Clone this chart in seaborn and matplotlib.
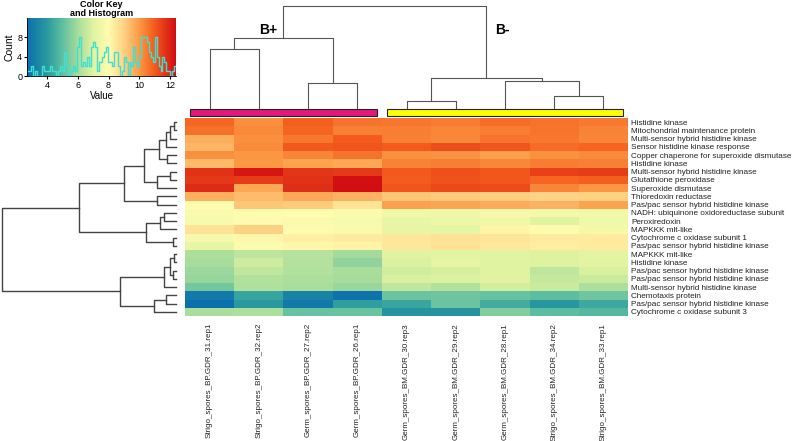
import numpy as np
import pandas as pd
import seaborn as sns
import matplotlib.pyplot as plt
from matplotlib.colors import LinearSegmentedColormap
from matplotlib.patches import Rectangle

samples = ["Strigo_spores_BP.GDR_31.rep1", "Strigo_spores_BP.GDR_32.rep2",
           "Germ_spores_BP.GDR_27.rep2", "Germ_spores_BP.GDR_26.rep1",
           "Germ_spores_BM.GDR_30.rep3", "Germ_spores_BM.GDR_29.rep2",
           "Germ_spores_BM.GDR_28.rep1", "Strigo_spores_BM.GDR_34.rep2",
           "Strigo_spores_BM.GDR_33.rep1"]
groups = ["B+", "B+", "B+", "B+", "B-", "B-", "B-", "B-", "B-"]
group_colors = {"B+": "#e4177f", "B-": "#ffff00"}

genes = ["Histidine kinase", "Mitochondrial maintenance protein",
         "Multi-sensor hybrid histidine kinase", "Sensor histidine kinase response",
         "Copper chaperone for superoxide dismutase", "Histidine kinase",
         "Multi-sensor hybrid histidine kinase", "Glutathione peroxidase",
         "Superoxide dismutase", "Thioredoxin reductase",
         "Pas/pac sensor hybrid histidine kinase", "NADH: ubiquinone oxidoreductase subunit",
         "Peroxiredoxin", "MAPKKK mlt-like", "Cytochrome c oxidase subunit 1",
         "Pas/pac sensor hybrid histidine kinase", "MAPKKK mlt-like", "Histidine kinase",
         "Pas/pac sensor hybrid histidine kinase", "Pas/pac sensor hybrid histidine kinase",
         "Multi-sensor hybrid histidine kinase", "Chemotaxis protein",
         "Pas/pac sensor hybrid histidine kinase", "Cytochrome c oxidase subunit 3"]

expr = [
    [10.82, 10.18, 10.93, 10.62, 10.55, 10.47, 10.71, 10.64, 10.52],
    [10.66, 10.23, 10.85, 10.38, 10.44, 10.31, 10.47, 10.58, 10.36],
    [9.62, 10.16, 10.54, 11.02, 10.41, 10.29, 10.63, 10.56, 10.34],
    [9.48, 10.21, 11.04, 11.12, 11.01, 11.22, 11.13, 10.74, 10.86],
    [10.17, 10.06, 10.33, 10.61, 10.12, 10.08, 9.92, 10.14, 10.24],
    [9.41, 10.02, 9.83, 9.71, 10.37, 10.43, 10.28, 10.46, 10.39],
    [11.72, 12.21, 11.66, 11.58, 11.03, 11.18, 11.09, 11.47, 11.52],
    [11.61, 11.54, 11.73, 12.31, 10.97, 11.14, 11.06, 10.81, 10.92],
    [11.88, 9.74, 11.79, 12.38, 11.11, 11.32, 11.27, 10.33, 10.07],
    [9.62, 9.37, 9.71, 9.58, 9.21, 9.16, 9.08, 8.97, 9.03],
    [8.02, 9.18, 9.11, 8.63, 9.88, 9.79, 9.69, 9.57, 9.83],
    [7.82, 7.91, 8.03, 7.87, 7.48, 7.53, 7.71, 7.62, 7.58],
    [7.77, 7.94, 7.81, 7.76, 7.32, 7.41, 7.52, 7.04, 7.47],
    [8.61, 9.02, 7.93, 7.84, 7.22, 7.17, 8.18, 7.92, 7.63],
    [7.68, 8.11, 8.27, 8.38, 8.49, 8.62, 8.53, 8.41, 8.44],
    [7.21, 7.88, 8.13, 8.22, 8.52, 8.58, 8.47, 8.36, 8.43],
    [6.12, 6.38, 6.27, 5.98, 7.03, 7.11, 7.08, 6.97, 7.14],
    [6.02, 6.68, 6.23, 5.72, 6.91, 7.18, 7.01, 6.96, 7.09],
    [5.88, 6.47, 6.19, 6.07, 6.72, 6.81, 6.99, 6.42, 6.87],
    [5.79, 6.22, 6.13, 6.01, 6.88, 6.93, 7.02, 6.53, 6.62],
    [5.31, 6.17, 6.04, 5.83, 6.48, 6.21, 6.77, 6.61, 6.12],
    [3.02, 4.28, 3.31, 2.84, 5.19, 5.23, 5.12, 4.97, 5.21],
    [2.71, 3.98, 3.04, 4.12, 4.31, 5.17, 4.52, 3.91, 4.38],
    [6.08, 6.11, 5.09, 5.13, 3.82, 3.77, 5.48, 4.92, 4.81],
]

# dendrograms as nested (height, left, right); ints are leaf indices
col_tree = (103, (71, (60, 0, 1), (26, 2, 3)),
            (31, (8, 4, 5), (28, 6, (13, 7, 8))))
row_tree = (174,
            (97,
             (52,
              (32, (17, (10, (6, (2, 0, 1), 2), 3), (9, 4, 5)),
               (19, (6, 6, 7), 8)),
              (19, 9, 10)),
             (30, (16, (12, 11, 12), 13), (3, 14, 15))),
            (56, (12, (6, (2, 16, 17), (3, 18, 19)), 20),
             (22, (10, 21, 22), 23)))

df = pd.DataFrame(expr, index=genes, columns=samples)
vmin, vmax = df.values.min(), df.values.max()

key_vals = [vmin, 4, 5, 6, 7, 8, 9, 10, 11, vmax]
key_cols = ["#0b6fae", "#2a9a9e", "#5fbfa0", "#a6dc9c", "#e0f3a0",
            "#fffcb0", "#fed285", "#fb9a45", "#f45b1d", "#d10e12"]
cmap = LinearSegmentedColormap.from_list(
    "key", [((v - vmin) / (vmax - vmin), c) for v, c in zip(key_vals, key_cols)])

plt.rcParams['font.family'] = ['Liberation Sans', 'DejaVu Sans']
W, H = 799, 441
fig = plt.figure(figsize=(W / 100, H / 100), dpi=100)


def px_axes(x0, y0, x1, y1):
    return fig.add_axes([x0 / W, 1 - y1 / H, (x1 - x0) / W, (y1 - y0) / H])


def draw_tree(ax, node, orient, color, lw):
    if isinstance(node, int):
        return node + 0.5, 0.0
    h, left, right = node
    pl, hl = draw_tree(ax, left, orient, color, lw)
    pr, hr = draw_tree(ax, right, orient, color, lw)
    pos = [pl, pl, pr, pr]
    hts = [hl, h, h, hr]
    if orient == "top":
        ax.plot(pos, hts, color=color, lw=lw, clip_on=False)
    else:
        ax.plot(hts, pos, color=color, lw=lw, clip_on=False)
    return (pl + pr) / 2, h


# heatmap
ax = px_axes(185, 118, 628, 316)
sns.heatmap(df, cmap=cmap, vmin=vmin, vmax=vmax, cbar=False, ax=ax,
            xticklabels=samples, yticklabels=genes)
ax.yaxis.tick_right()
ax.tick_params(length=0)
ax.tick_params(axis="y", labelsize=5.9, pad=2.5)
ax.tick_params(axis="x", labelsize=5.8, pad=5)
plt.setp(ax.get_yticklabels(), rotation=0, color="#222222")
plt.setp(ax.get_xticklabels(), rotation=90, color="#222222")
ax.set_xlabel("")
ax.set_ylabel("")

# column dendrogram
axc = px_axes(185, 5, 628, 109)
draw_tree(axc, col_tree, "top", "#555555", 0.8)
axc.set_xlim(0, len(samples))
axc.set_ylim(0, 104)
axc.axis("off")

# group colour bars
axg = px_axes(185, 108, 628, 117)
for g in ["B+", "B-"]:
    idx = [i for i, s in enumerate(groups) if s == g]
    axg.add_patch(Rectangle((min(idx) + 0.1, 0.1), max(idx) - min(idx) + 0.8, 0.8,
                            facecolor=group_colors[g], edgecolor="#222222", lw=0.8))
axg.set_xlim(0, len(samples))
axg.set_ylim(0, 1)
axg.axis("off")

fig.text(268 / W, 1 - 30 / H, "B+", fontsize=10, fontweight="bold", ha="center", va="center")
fig.text(502 / W, 1 - 30 / H, "B-", fontsize=10, fontweight="bold", ha="center", va="center")

# row dendrogram
axr = px_axes(2, 118, 176, 316)
draw_tree(axr, row_tree, "left", "#444444", 1.0)
axr.set_ylim(len(genes), 0)
axr.set_xlim(174, 0)
axr.axis("off")

# colour key with histogram
axk = px_axes(27, 18, 176, 76)
grad = np.linspace(vmin, vmax, 256).reshape(1, -1)
axk.imshow(grad, cmap=cmap, vmin=vmin, vmax=vmax, aspect="auto",
           extent=[vmin, vmax, 0, 12], origin="lower")
sns.histplot(x=df.values.ravel(), bins=np.linspace(vmin, vmax, 78), element="step",
             fill=False, color="#3ee0d4", lw=1.0, ax=axk)
axk.set_xlim(vmin, vmax)
axk.set_ylim(0, 12)
axk.set_xticks([4, 6, 8, 10, 12])
axk.set_yticks([0, 4, 8])
axk.tick_params(labelsize=6.5, length=2, pad=1.5)
axk.set_ylabel("Count", fontsize=7.5, labelpad=2)
axk.set_xlabel("Value", fontsize=7, labelpad=1)
axk.set_title("Color Key\nand Histogram", fontsize=6.5, fontweight="bold", pad=1,
              linespacing=1.0)
for s in ["top", "right"]:
    axk.spines[s].set_visible(False)
for s in ["left", "bottom"]:
    axk.spines[s].set_linewidth(0.6)

fig.savefig("out.png", dpi=100)
